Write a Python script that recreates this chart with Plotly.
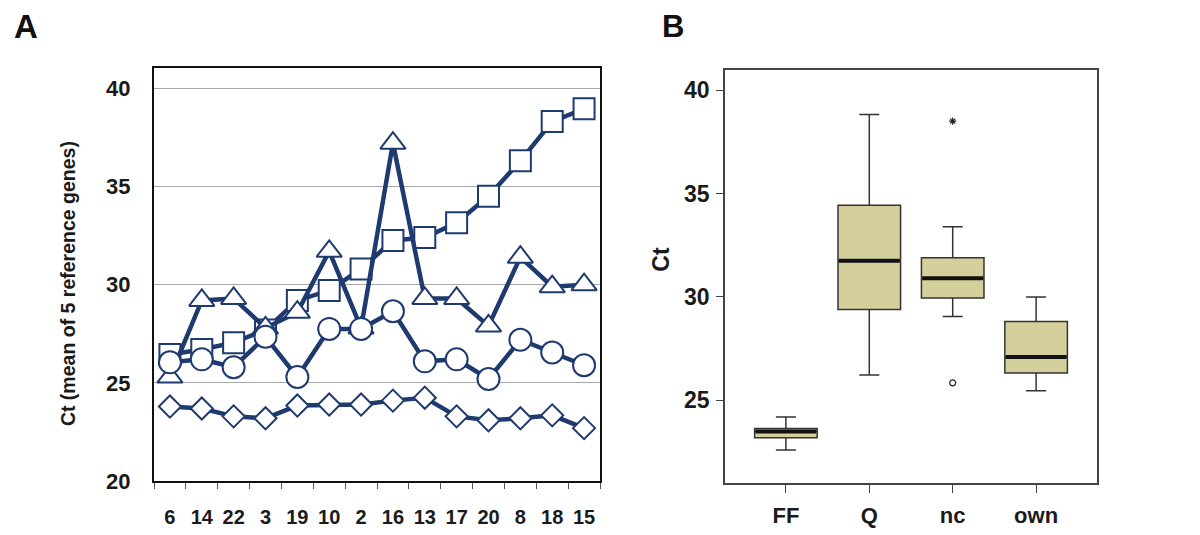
import plotly.graph_objects as go

# ---------- Panel A data ----------
samples = ["6", "14", "22", "3", "19", "10", "2", "16", "13", "17", "20", "8", "18", "15"]
square_vals = [26.45, 26.7, 27.05, 27.7, 29.2, 29.7, 30.8, 32.25, 32.4, 33.15, 34.5, 36.3, 38.3, 38.95]
triangle_vals = [25.3, 29.2, 29.3, 27.8, 28.6, 31.7, 27.8, 37.2, 29.3, 29.3, 27.9, 31.4, 29.9, 30.0]
circle_vals = [26.05, 26.2, 25.8, 27.35, 25.3, 27.75, 27.75, 28.65, 26.1, 26.2, 25.2, 27.2, 26.55, 25.9]
diamond_vals = [23.8, 23.7, 23.3, 23.2, 23.85, 23.9, 23.9, 24.1, 24.25, 23.3, 23.1, 23.2, 23.35, 22.7]

# ---------- Panel B data ----------
groups = ["FF", "Q", "nc", "own"]
lower_whisker = [22.6, 26.23, 29.06, 25.47]
q1_vals = [23.2, 29.39, 29.95, 26.32]
median_vals = [23.5, 31.75, 30.9, 27.1]
q3_vals = [23.64, 34.43, 31.9, 28.82]
upper_whisker = [24.2, 38.82, 33.4, 30.0]
extreme_groups = ["nc"]
extreme_vals = [38.5]
outlier_groups = ["nc"]
outlier_vals = [25.85]

NAVY = "#1f3a6f"
FONT = "Liberation Sans, Arial, sans-serif"

fig = go.Figure()

series = [
    (square_vals, "square", 21),
    (triangle_vals, "triangle-up", 22),
    (circle_vals, "circle", 22),
    (diamond_vals, "diamond", 17),
]
for vals, sym, sz in series:
    fig.add_trace(go.Scatter(
        x=samples, y=vals, mode="lines+markers",
        line=dict(color=NAVY, width=4.5),
        marker=dict(symbol=sym, size=sz, color="white", line=dict(color=NAVY, width=2)),
        xaxis="x", yaxis="y", showlegend=False, cliponaxis=False,
    ))

# Boxes
fig.add_trace(go.Box(
    x=groups, q1=q1_vals, median=median_vals, q3=q3_vals,
    lowerfence=lower_whisker, upperfence=upper_whisker,
    fillcolor="#d5d09b", line=dict(color="#333333", width=1.5),
    whiskerwidth=0.32, width=0.75, boxpoints=False,
    xaxis="x2", yaxis="y2", showlegend=False,
))
# thick median lines
fig.add_trace(go.Box(
    x=groups, q1=median_vals, median=median_vals, q3=median_vals,
    lowerfence=median_vals, upperfence=median_vals,
    fillcolor="rgba(0,0,0,0)", line=dict(color="#111111", width=4),
    whiskerwidth=0, width=0.73, boxpoints=False,
    xaxis="x2", yaxis="y2", showlegend=False,
))
fig.add_trace(go.Scatter(
    x=extreme_groups, y=extreme_vals, mode="markers",
    marker=dict(symbol="asterisk", size=6, color="#222222", line=dict(color="#222222", width=1.2)),
    xaxis="x2", yaxis="y2", showlegend=False,
))
fig.add_trace(go.Scatter(
    x=outlier_groups, y=outlier_vals, mode="markers",
    marker=dict(symbol="circle-open", size=6, color="#222222", line=dict(color="#222222", width=1.2)),
    xaxis="x2", yaxis="y2", showlegend=False,
))

fig.update_layout(
    width=1200, height=535,
    margin=dict(l=0, r=0, t=0, b=0),
    paper_bgcolor="white", plot_bgcolor="white",
    font=dict(family=FONT, color="#1a1a1a"),
    xaxis=dict(
        domain=[146 / 1200, 592 / 1200], type="category", range=[-0.5, 13.5],
        showline=True, linecolor="#111111", linewidth=2, mirror=True,
        ticks="outside", tickson="boundaries", ticklen=6, tickcolor="#555555",
        ticklabelstandoff=17, tickangle=0,
        tickfont=dict(size=20, family=FONT, weight="bold"), showgrid=False,
        anchor="y",
    ),
    yaxis=dict(
        domain=[(535 - 485) / 535, (535 - 62) / 535], range=[20, 41], dtick=5, tick0=20,
        showline=True, linecolor="#111111", linewidth=2, mirror=True,
        ticks="", showgrid=True, gridcolor="#a8a8a8", gridwidth=1,
        ticklabelstandoff=17,
        tickfont=dict(size=22, family=FONT, weight="bold"), zeroline=False,
        anchor="x",
    ),
    xaxis2=dict(
        domain=[717 / 1200, 1089 / 1200], type="category", range=[-0.73, 3.73],
        showline=True, linecolor="#444444", linewidth=1.5, mirror=True,
        ticks="outside", ticklen=8, tickcolor="#444444", ticklabelstandoff=4, tickangle=0,
        tickfont=dict(size=22, family=FONT, weight="bold"), showgrid=False,
        anchor="y2",
    ),
    yaxis2=dict(
        domain=[(535 - 487) / 535, (535 - 64) / 535], range=[21, 40.95], dtick=5, tick0=20,
        showline=True, linecolor="#444444", linewidth=1.5, mirror=True,
        ticks="outside", ticklen=7, tickcolor="#444444", ticklabelstandoff=2,
        tickfont=dict(size=23, family=FONT, weight="bold"), showgrid=False, zeroline=False,
        anchor="x2",
    ),
    annotations=[
        dict(text="<b>A</b>", x=18 / 1200, y=(535 - 19) / 535, xref="paper", yref="paper",
             xanchor="center", yanchor="middle",
             showarrow=False, font=dict(size=33, family=FONT, color="#111111")),
        dict(text="<b>B</b>", x=665 / 1200, y=(535 - 19) / 535, xref="paper", yref="paper",
             xanchor="center", yanchor="middle",
             showarrow=False, font=dict(size=31, family=FONT, color="#111111")),
        dict(text="<b>Ct (mean of 5 reference genes)</b>", x=60 / 1200, y=(535 - 283) / 535,
             xref="paper", yref="paper", textangle=-90, showarrow=False,
             xanchor="center", yanchor="middle",
             font=dict(size=19.5, family=FONT, color="#1a1a1a")),
        dict(text="<b>Ct</b>", x=653 / 1200, y=(535 - 258) / 535,
             xref="paper", yref="paper", textangle=-90, showarrow=False,
             xanchor="center", yanchor="middle",
             font=dict(size=23, family=FONT, color="#1a1a1a")),
    ],
)

fig.write_html("out.html")
